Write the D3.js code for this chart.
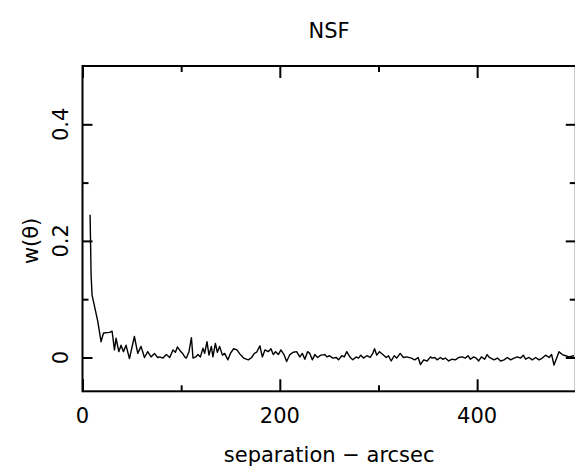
<!DOCTYPE html>
<html>
<head>
<meta charset="utf-8">
<script src="https://cdn.jsdelivr.net/npm/d3@7"></script>
<style>
  body { margin: 0; background: #fff; }
  text { font-family: "DejaVu Sans", sans-serif; fill: #000; }
</style>
</head>
<body>
<svg width="575" height="466"></svg>
<script>

// separation (arcsec) and w(theta)
var sep = [7.7, 8.7, 9.7, 15.5, 18.8, 21.3, 27.3, 30.0, 32.4, 34.0, 36.8, 39.1, 41.5, 44.1, 47.6,
  52.6, 56.0, 59.3, 62.8, 66.1, 69.5, 72.9, 76.2, 78.3, 81.6, 85.0, 88.4, 91.7, 94.2, 96.2, 99.2,
  101.9, 103.6, 105.3, 107.9, 110.4, 112.0, 114.7, 117.0, 119.5, 122.1, 123.8, 126.2, 128.2, 130.6,
  132.2, 134.7, 136.7, 139.0, 141.8, 144.1, 147.4, 149.9, 153.2, 156.5, 160.0, 163.3, 168.1, 171.4,
  174.2, 176.5, 179.8, 182.3, 184.9, 188.3, 191.0, 193.4, 195.7, 198.5, 201.1, 204.5, 206.9, 210.2,
  213.6, 217.0, 220.3, 222.8, 225.4, 228.1, 230.4, 232.9, 235.5, 238.2, 241.6, 245.6, 247.7, 250.4,
  253.7, 257.2, 259.5, 262.8, 265.3, 267.9, 269.6, 271.4, 274.0, 277.4, 279.8, 282.1, 284.8, 288.2,
  291.6, 294.2, 296.0, 298.3, 301.0, 304.4, 307.8, 310.1, 312.9, 315.9, 318.5, 322.0, 325.3, 328.7,
  333.4, 336.8, 340.2, 342.5, 345.9, 349.3, 352.7, 354.4, 357.0, 359.4, 362.8, 365.1, 367.8, 371.2,
  374.6, 378.0, 381.3, 384.8, 388.1, 390.8, 393.2, 396.5, 398.9, 401.6, 404.3, 407.6, 410.1, 412.4,
  417.2, 420.5, 423.8, 427.3, 430.6, 434.0, 437.3, 440.7, 444.1, 446.8, 449.1, 452.6, 455.9, 459.3,
  462.7, 466.1, 469.4, 472.9, 475.5, 477.9, 480.6, 483.0, 486.3, 489.7, 493.1, 498.2];

var wtheta = [0.245, 0.142, 0.107, 0.062, 0.027, 0.042, 0.043, 0.045, 0.013, 0.033, 0.010, 0.021, 0.010, 0.021, -0.002,
  0.036, 0.007, 0.019, 0.000, 0.010, 0.001, 0.007, 0.000, 0.001, -0.001, 0.005, 0.000, 0.013, 0.009, 0.018, 0.011,
  0.006, 0.001, -0.001, 0.010, 0.034, -0.001, 0.001, 0.005, 0.001, 0.016, 0.007, 0.027, 0.004, 0.019,
  0.001, 0.024, 0.009, 0.019, 0.004, 0.007, -0.004, 0.007, 0.015, 0.013, 0.005, -0.001, -0.004, 0.000,
  0.007, 0.009, 0.020, 0.001, 0.013, 0.010, 0.015, 0.005, 0.010, 0.005, 0.013, 0.004, -0.007, 0.005,
  0.009, 0.010, 0.001, 0.007, -0.003, 0.010, 0.007, -0.004, 0.005, 0.000, 0.004, 0.005, 0.001, 0.003,
  -0.001, 0.000, -0.004, 0.003, 0.001, 0.010, 0.005, 0.000, -0.004, 0.001, -0.001, 0.004, -0.001, 0.003,
  0.000, 0.007, 0.015, 0.004, 0.010, 0.005, 0.000, 0.003, -0.006, 0.003, -0.001, 0.007, 0.000, 0.001,
  -0.001, -0.004, 0.000, -0.012, -0.004, -0.006, 0.001, -0.001, 0.000, -0.004, 0.000, -0.003, -0.001, -0.006,
  -0.003, -0.004, 0.000, 0.001, -0.001, 0.003, -0.003, 0.001, -0.001, -0.006, 0.001, -0.003, 0.005, 0.000,
  -0.004, -0.001, -0.006, -0.004, 0.000, -0.004, -0.001, 0.001, -0.001, 0.004, -0.003, 0.000, -0.004, 0.000,
  -0.004, -0.001, 0.004, 0.000, 0.005, -0.013, -0.001, 0.010, 0.005, 0.003, 0.001, 0.003];

var xMajor = [0, 200, 400];
var xMinor = [100, 300];
var yMajor = [0, 0.2, 0.4];
var yMinor = [0.1, 0.3];

var title = "NSF";
var xTitle = "separation \u2212 arcsec";

var svg = d3.select("svg");

// plot box
var boxL = 82.5, boxR = 575.8, boxT = 66, boxB = 391.3;

var x = d3.scaleLinear().domain([0, 500]).range([boxL, boxR]);
var y = d3.scaleLinear().domain([-0.058, 0.5]).range([boxB, boxT]);

var pts = sep.map(function (s, i) { return [s, wtheta[i]]; });

// the curve
svg.append("path")
  .datum(pts)
  .attr("fill", "none")
  .attr("stroke", "#000")
  .attr("stroke-width", 1.4)
  .attr("stroke-linejoin", "round")
  .attr("d", d3.line()
    .x(function (d) { return x(d[0]); })
    .y(function (d) { return y(d[1]); }));

// ticks pointing inwards on all four sides
function ticks(axis, vals, len, tr) {
  svg.append("g")
    .attr("transform", tr)
    .call(axis.tickValues(vals).tickSize(-len).tickFormat(""))
    .call(function (g) { g.select(".domain").remove(); })
    .selectAll("line").attr("stroke-width", 2);
}
ticks(d3.axisBottom(x), xMajor, 12, "translate(0," + boxB + ")");
ticks(d3.axisBottom(x), xMinor, 6, "translate(0," + boxB + ")");
ticks(d3.axisTop(x), xMajor, 12, "translate(0," + boxT + ")");
ticks(d3.axisTop(x), xMinor, 6, "translate(0," + boxT + ")");
ticks(d3.axisLeft(y), yMajor, 10, "translate(" + boxL + ",0)");
ticks(d3.axisLeft(y), yMinor, 6, "translate(" + boxL + ",0)");
ticks(d3.axisRight(y), yMajor, 10, "translate(" + boxR + ",0)");
ticks(d3.axisRight(y), yMinor, 6, "translate(" + boxR + ",0)");

svg.append("rect")
  .attr("x", boxL).attr("y", boxT)
  .attr("width", boxR - boxL).attr("height", boxB - boxT)
  .attr("fill", "none").attr("stroke", "#000").attr("stroke-width", 2);

// tick labels
svg.append("g").selectAll("text")
  .data(xMajor).enter().append("text")
  .attr("x", function (d) { return x(d); })
  .attr("y", 423)
  .attr("text-anchor", "middle")
  .style("font-size", "21px")
  .text(function (d) { return d; });

svg.append("g").selectAll("text")
  .data(yMajor).enter().append("text")
  .attr("transform", function (d) { return "translate(68," + y(d) + ") rotate(-90)"; })
  .attr("text-anchor", "middle")
  .style("font-size", "21px")
  .text(function (d) { return d; });

// titles
svg.append("text")
  .attr("x", (boxL + boxR) / 2).attr("y", 38)
  .attr("text-anchor", "middle")
  .style("font-size", "21px")
  .text(title);

svg.append("text")
  .attr("x", (boxL + boxR) / 2).attr("y", 462)
  .attr("text-anchor", "middle")
  .style("font-size", "21px")
  .text(xTitle);

svg.append("text")
  .attr("transform", "translate(38," + y(0.2) + ") rotate(-90)")
  .attr("text-anchor", "middle")
  .style("font-size", "21px")
  .text("w(\u03b8)");
</script>
</body>
</html>
